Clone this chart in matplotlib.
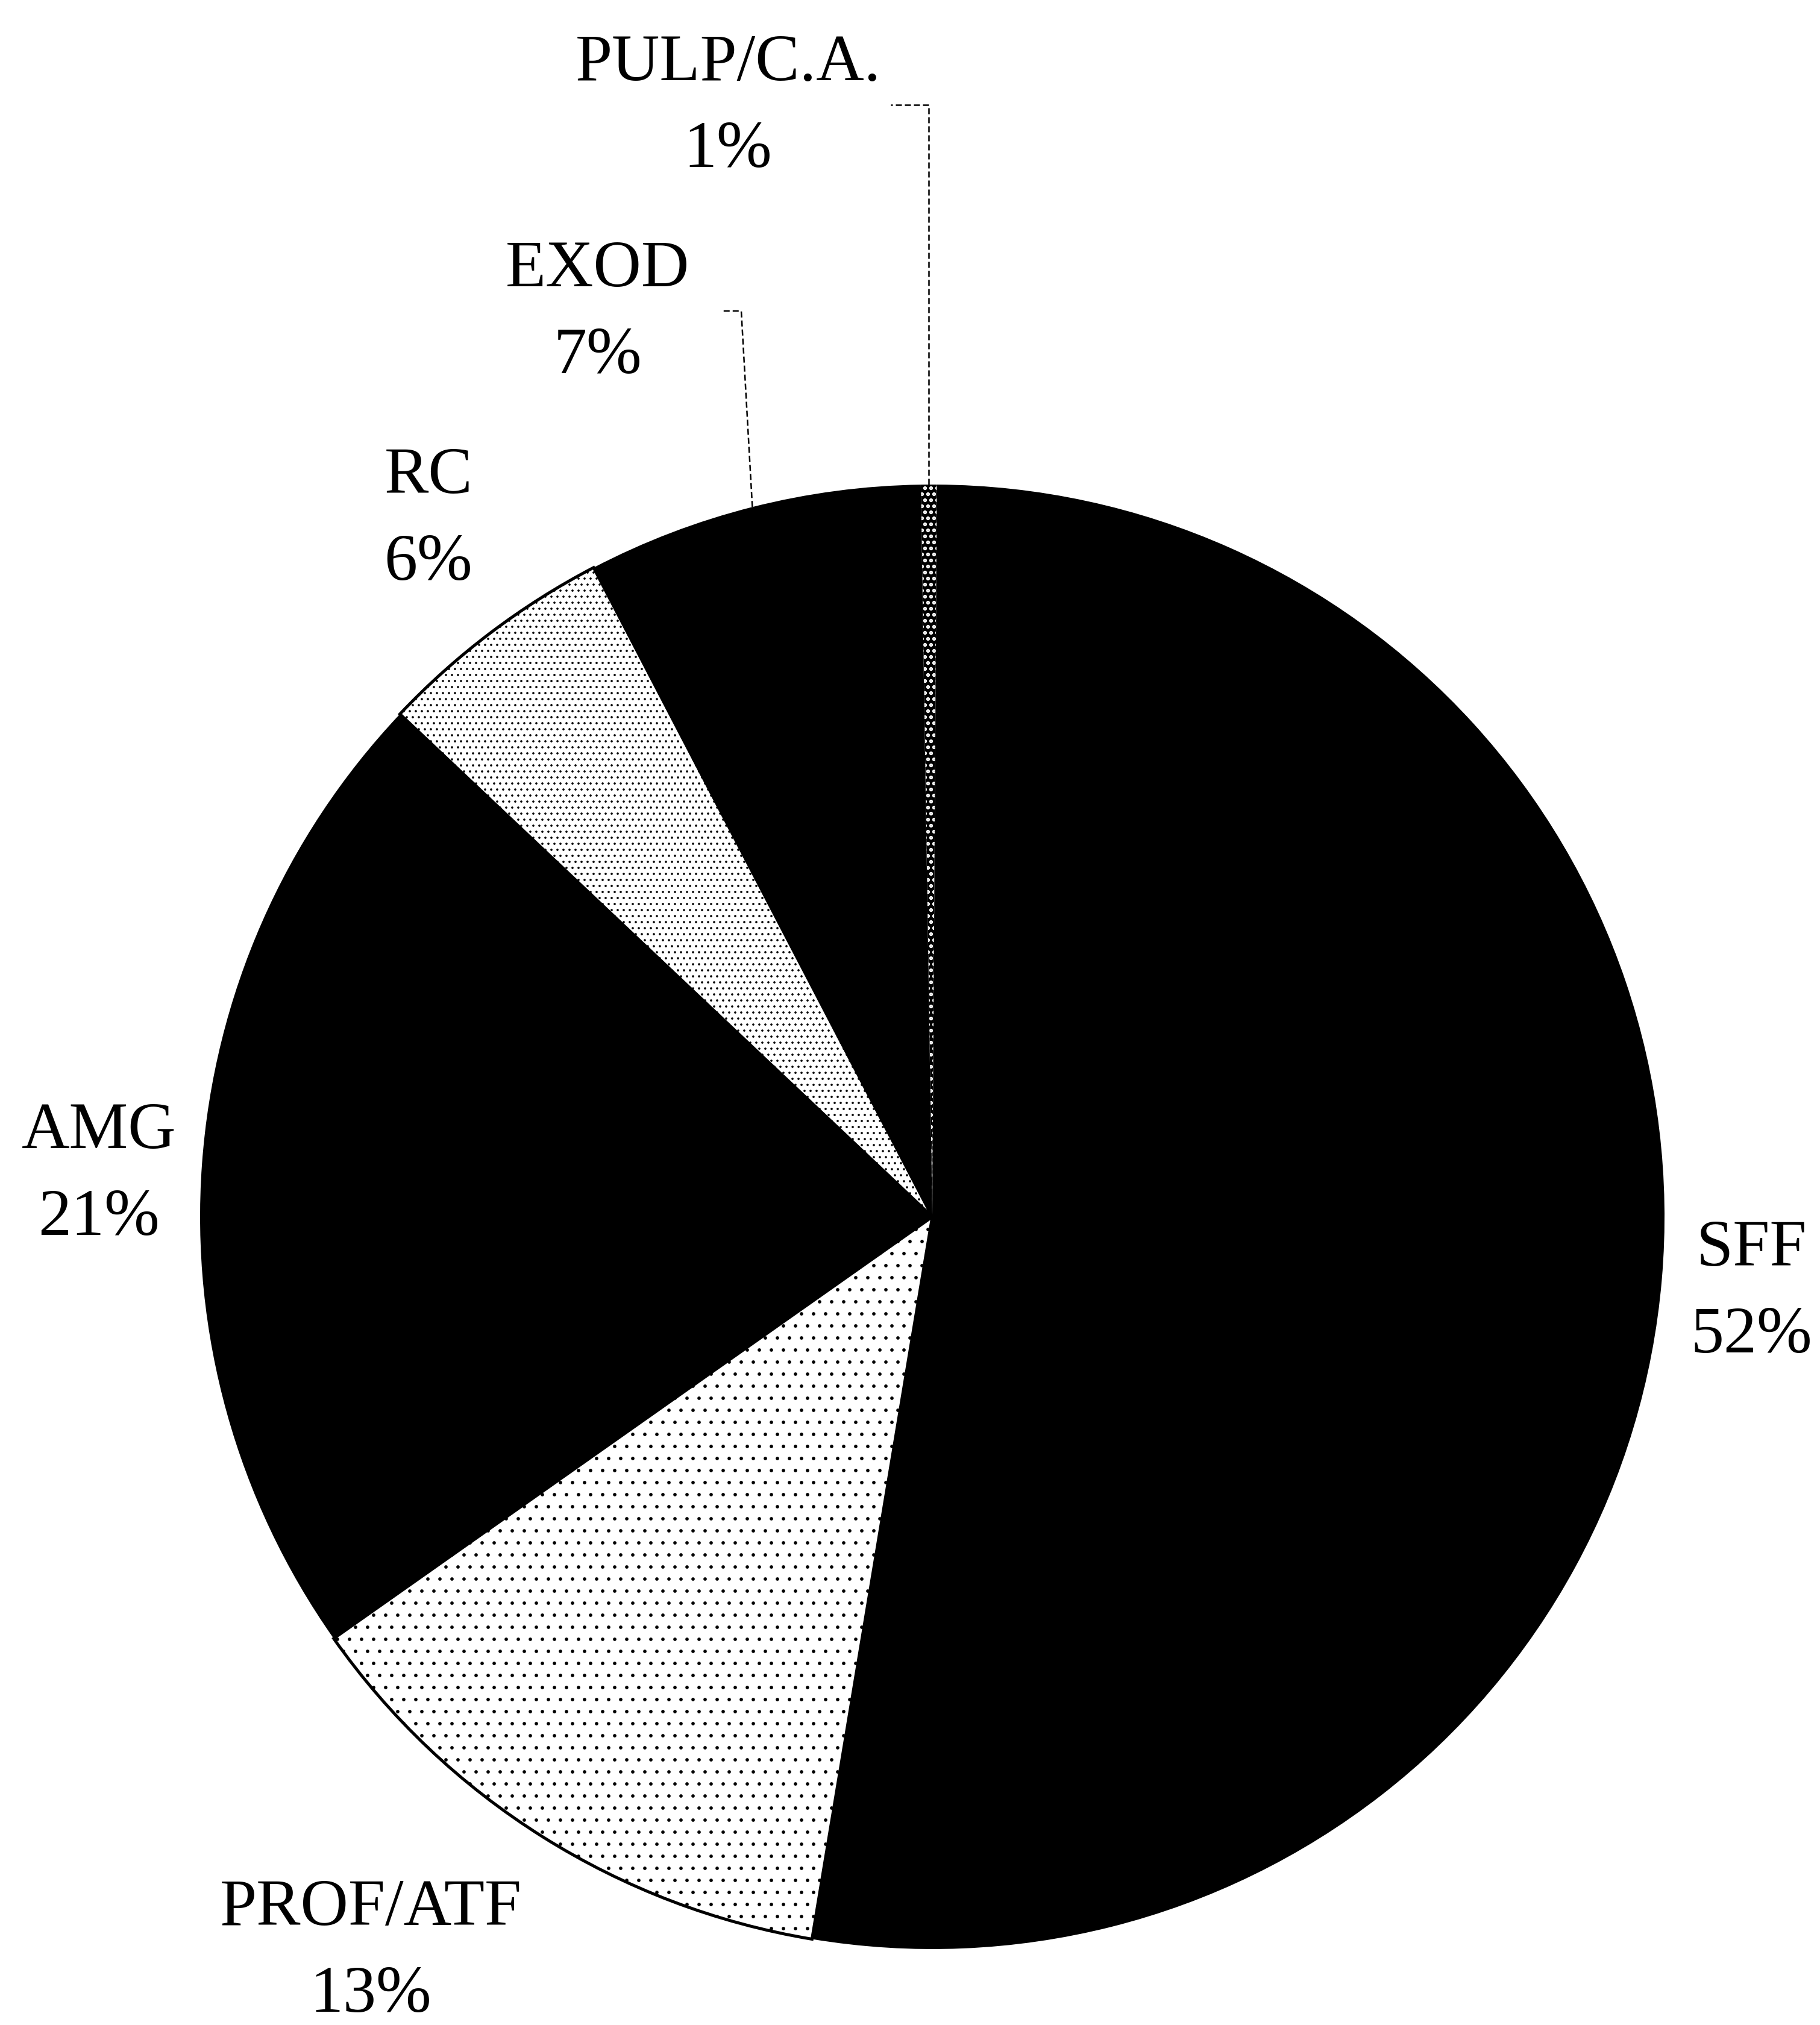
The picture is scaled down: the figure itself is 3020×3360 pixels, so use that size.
import numpy as np
import matplotlib.pyplot as plt

# slice names and printed percentages, clockwise from the top
names = ["PULP/C.A.", "SFF", "PROF/ATF", "AMG", "RC", "EXOD"]
pct_labels = ["1%", "52%", "13%", "21%", "6%", "7%"]
# slice sizes
shares = [0.35, 52.5, 12.6, 21.8, 5.3, 7.4]

# styles
face = ["black", "black", "white", "black", "white", "black"]
hatches = ["..", None, ".", None, "..", None]

DPI = 120
W, H = 3020, 3360
cx, cy, R = 1547, 2019, 1215   # pie centre / radius in pixels


def to_data(px, py):
    return (px - cx) / R, (cy - py) / R


fig = plt.figure(figsize=(W / DPI, H / DPI), dpi=DPI, facecolor="white")
ax = fig.add_axes([0, 0, 1, 1])

wedges, _ = ax.pie(shares, startangle=90.9, counterclock=False,
                   colors=face, wedgeprops=dict(edgecolor="black", linewidth=3))

for w, fc, h in zip(wedges, face, hatches):
    if fc == "black":
        w.set_linewidth(0)
    if h:
        w.set_hatch(h)

# the thin sliver: white dots on black
pulp = wedges[0]
pulp.set_edgecolor("white")
pulp.set_linewidth(0)
if hasattr(pulp, "set_hatch_linewidth"):
    pulp.set_hatch_linewidth(2.5)

ax.set_xlim(-cx / R, (W - cx) / R)
ax.set_ylim((cy - H) / R, cy / R)
ax.set_aspect("auto")
ax.axis("off")

# labels: centre x and first baseline, in pixels
label_pos = [(1208, 133), (2906, 2100), (615, 3194), (164, 1905), (711, 818), (992, 475)]
step = 144 / R
font = dict(family="Liberation Serif", fontsize=66, color="black",
            ha="center", va="baseline")
for name, pct, (px, py) in zip(names, pct_labels, label_pos):
    x, y = to_data(px, py)
    ax.text(x, y, name, **font)
    ax.text(x, y - step, pct, **font)

# leader lines for the two small top slices: (knee pixel, end x pixel)
leaders = {0: ((None, 174), 1478), 5: ((1230, 516), 1197)}
for i, ((kx, ky), ex) in leaders.items():
    w = wedges[i]
    mid = np.deg2rad((w.theta1 + w.theta2) / 2)
    ax0, ay0 = np.cos(mid), np.sin(mid)
    kxd = ax0 if kx is None else to_data(kx, ky)[0]
    kyd = to_data(0, ky)[1]
    exd = to_data(ex, ky)[0]
    ax.plot([ax0, kxd, exd], [ay0, kyd, kyd], color="black", lw=1.5,
            linestyle=(0, (4, 2)), solid_capstyle="butt")

fig.savefig("out.png", dpi=DPI, facecolor="white")
